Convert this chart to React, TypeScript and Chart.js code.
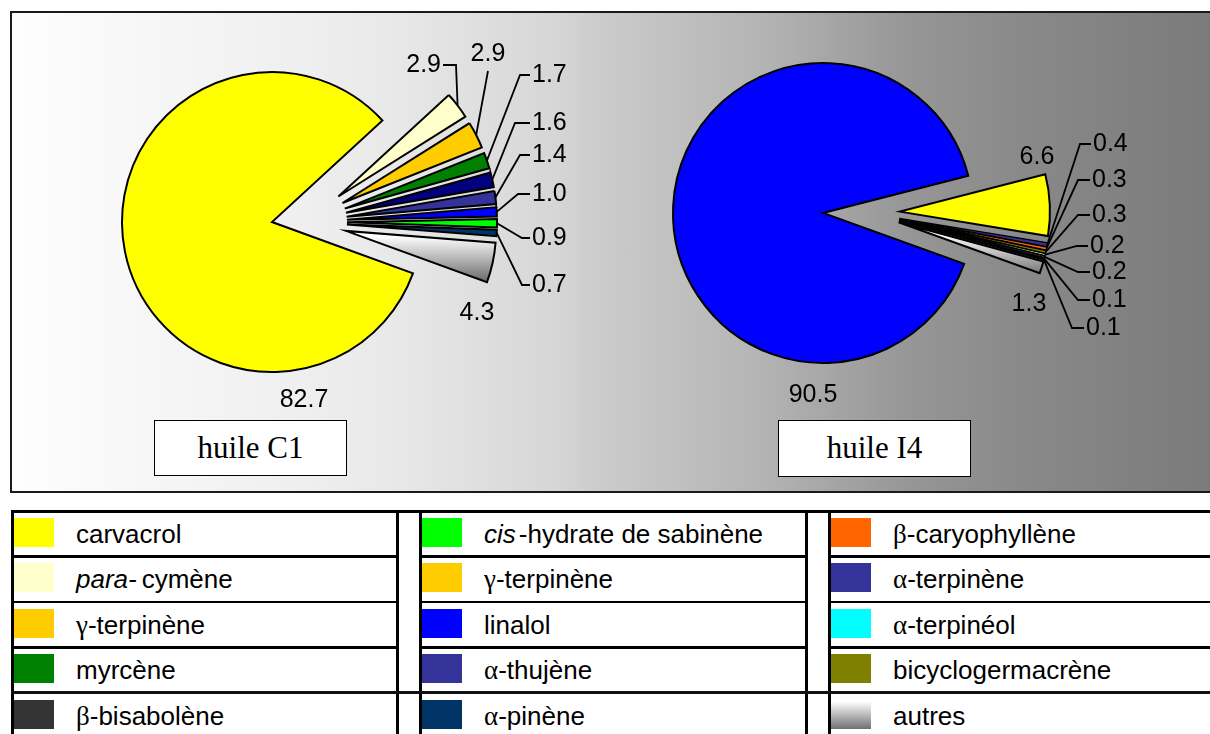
import React, { useEffect, useRef } from 'react';
import { Chart, registerables } from 'chart.js';

Chart.register(...registerables);

// ================= DATA =================
const chartTitles = ['huile C1', 'huile I4'];

const c1Labels = ['carvacrol', 'para-cymène', 'γ-terpinène', 'myrcène', 'α-terpinène', 'α-thujène', 'linalol', 'cis-hydrate de sabinène', 'α-pinène', 'autres'];
const c1Values = [82.7, 2.9, 2.9, 1.7, 1.6, 1.4, 1.0, 0.9, 0.7, 4.3];
const c1Colors = ['#FFFF00', '#FFFFCC', '#FFCC00', '#008000', '#000080', '#333399', '#0000FF', '#00FF00', '#003366', 'autres'];

const i4Labels = ['linalol', 'carvacrol', 'α-terpinène', 'β-caryophyllène', 'bicyclogermacrène', 'para-cymène', 'β-bisabolène', 'α-terpinéol', 'α-pinène', 'autres'];
const i4Values = [90.5, 6.6, 0.4, 0.3, 0.3, 0.2, 0.2, 0.1, 0.1, 1.3];
const i4Colors = ['#0000FF', '#FFFF00', '#333399', '#FF6600', '#808000', '#FFFFCC', '#333333', '#00FFFF', '#003366', 'autres'];

const legendNames = [
  'carvacrol', 'para-cymène', 'γ-terpinène', 'myrcène', 'β-bisabolène',
  'cis-hydrate de sabinène', 'γ-terpinène', 'linalol', 'α-thujène', 'α-pinène',
  'β-caryophyllène', 'α-terpinène', 'α-terpinéol', 'bicyclogermacrène', 'autres',
];
const legendColors = [
  '#FFFF00', '#FFFFCC', '#FFCC00', '#008000', '#333333',
  '#00FF00', '#FFCC00', '#0000FF', '#333399', '#003366',
  '#FF6600', '#333399', '#00FFFF', '#808000', 'autres',
];

// ================= LAYOUT =================
type LabelPos = { x: number; y: number; align: CanvasTextAlign; path?: number[][] };

// label positions relative to the pie centre
const c1LabelPos: LabelPos[] = [
  { x: 32, y: 178, align: 'center' },
  { x: 169, y: -157, align: 'right', path: [[184, -157], [171, -157]] },
  { x: 216, y: -168, align: 'center', path: [[216, -151]] },
  { x: 260, y: -147, align: 'left', path: [[248, -147], [258, -147]] },
  { x: 260, y: -99, align: 'left', path: [[243, -99], [258, -99]] },
  { x: 260, y: -67, align: 'left', path: [[248, -67], [258, -67]] },
  { x: 260, y: -28, align: 'left', path: [[246, -28], [258, -28]] },
  { x: 260, y: 16, align: 'left', path: [[250, 16], [258, 16]] },
  { x: 260, y: 63, align: 'left', path: [[250, 63], [258, 63]] },
  { x: 205, y: 91, align: 'center' },
];

const i4LabelPos: LabelPos[] = [
  { x: -10, y: 182, align: 'center' },
  { x: 214, y: -56, align: 'center' },
  { x: 270, y: -69, align: 'left', path: [[257, -69], [268, -69]] },
  { x: 269, y: -33, align: 'left', path: [[255, -33], [267, -33]] },
  { x: 269, y: 2, align: 'left', path: [[255, 2], [267, 2]] },
  { x: 267, y: 33, align: 'left', path: [[254, 33], [265, 33]] },
  { x: 269, y: 59, align: 'left', path: [[255, 59], [267, 59]] },
  { x: 269, y: 87, align: 'left', path: [[255, 87], [267, 87]] },
  { x: 263, y: 115, align: 'left', path: [[249, 115], [261, 115]] },
  { x: 206, y: 91, align: 'center' },
];

const FONT = '"Liberation Sans", Arial, Helvetica, sans-serif';
const SERIF = '"Liberation Serif", "Times New Roman", serif';

interface PieCfg {
  values: number[];
  labels: string[];
  colors: string[];
  labelPos: LabelPos[];
  rotation: number;
  radius: number;
  explode: { dx: number; o: number };
  grad: [number, number];
  left: number;
  top: number;
  width: number;
  height: number;
  padding: { left: number; right: number; top: number; bottom: number };
}

const pieC1: PieCfg = {
  values: c1Values, labels: c1Labels, colors: c1Colors, labelPos: c1LabelPos,
  rotation: 110, radius: 150, explode: { dx: 33, o: 42 }, grad: [14, 58],
  left: 12, top: 13, width: 598, height: 478,
  padding: { left: 0, right: 78, top: 0, bottom: 60 },
};

const pieI4: PieCfg = {
  values: i4Values, labels: i4Labels, colors: i4Colors, labelPos: i4LabelPos,
  rotation: 109.8, radius: 150, explode: { dx: 46, o: 31 }, grad: [22, 62],
  left: 610, top: 13, width: 598, height: 478,
  padding: { left: 0, right: 172, top: 0, bottom: 78 },
};

function PieChart({ cfg }: { cfg: PieCfg }) {
  const ref = useRef<HTMLCanvasElement>(null);
  useEffect(() => {
    const canvas = ref.current;
    if (!canvas) return;

    const explodePlugin = {
      id: 'explodeSlices',
      afterDatasetsUpdate(chart: any) {
        const meta = chart.getDatasetMeta(0);
        const ca = chart.chartArea;
        const cx = (ca.left + ca.right) / 2;
        const cy = (ca.top + ca.bottom) / 2;
        meta.data.forEach((arc: any, i: number) => {
          if (i === 0) return;
          const mid = (arc.startAngle + arc.endAngle) / 2;
          arc.x = cx + cfg.explode.dx + cfg.explode.o * Math.cos(mid);
          arc.y = cy + cfg.explode.o * Math.sin(mid);
        });
      },
    };

    const labelPlugin = {
      id: 'valueLabels',
      afterDatasetsDraw(chart: any) {
        const ctx = chart.ctx as CanvasRenderingContext2D;
        const meta = chart.getDatasetMeta(0);
        const ca = chart.chartArea;
        const cx = (ca.left + ca.right) / 2;
        const cy = (ca.top + ca.bottom) / 2;
        ctx.save();
        ctx.font = `25px ${FONT}`;
        ctx.fillStyle = '#000';
        ctx.strokeStyle = '#000';
        ctx.lineWidth = 1.8;
        meta.data.forEach((arc: any, i: number) => {
          const p = cfg.labelPos[i];
          if (!p) return;
          const mid = (arc.startAngle + arc.endAngle) / 2;
          if (p.path) {
            ctx.beginPath();
            ctx.moveTo(arc.x + arc.outerRadius * Math.cos(mid), arc.y + arc.outerRadius * Math.sin(mid));
            p.path.forEach(([px, py]) => ctx.lineTo(cx + px, cy + py));
            ctx.stroke();
          }
          ctx.textAlign = p.align;
          ctx.textBaseline = 'middle';
          ctx.fillText(cfg.values[i].toFixed(1), cx + p.x, cy + p.y);
        });
        ctx.restore();
      },
    };

    const chart = new Chart(canvas, {
      type: 'pie',
      data: {
        labels: cfg.labels,
        datasets: [
          {
            data: cfg.values,
            backgroundColor: (c: any) => {
              const col = cfg.colors[c.dataIndex];
              if (col === undefined) return '#000';
              if (col !== 'autres') return col;
              const ca = c.chart.chartArea;
              if (!ca) return '#bbbbbb';
              const cy = (ca.top + ca.bottom) / 2;
              const g = c.chart.ctx.createLinearGradient(0, cy + cfg.grad[0], 0, cy + cfg.grad[1]);
              g.addColorStop(0, '#ffffff');
              g.addColorStop(1, '#707070');
              return g;
            },
            borderColor: '#000',
            borderWidth: (c: any) => {
              const v = cfg.values[c.dataIndex];
              return v !== undefined && v < 0.5 ? 1.2 : 2;
            },
            borderJoinStyle: 'miter',
            hoverOffset: 0,
          } as any,
        ],
      },
      options: {
        responsive: false,
        maintainAspectRatio: false,
        animation: false,
        events: [],
        rotation: cfg.rotation,
        radius: cfg.radius,
        layout: { padding: cfg.padding },
        plugins: {
          legend: { display: false },
          tooltip: { enabled: false },
          title: { display: false },
        },
      } as any,
      plugins: [explodePlugin, labelPlugin],
    });
    return () => chart.destroy();
  }, [cfg]);

  return (
    <canvas
      ref={ref}
      width={cfg.width}
      height={cfg.height}
      style={{ position: 'absolute', left: cfg.left, top: cfg.top, width: cfg.width, height: cfg.height }}
    />
  );
}

function formatName(name: string) {
  const nodes: React.ReactNode[] = [];
  let rest = name;
  const m = rest.match(/^(para-|cis)(.*)$/);
  if (m) {
    nodes.push(
      <i key="it" style={{ marginRight: m[1] === 'cis' ? 3 : 5 }}>
        {m[1]}
      </i>
    );
    rest = m[2];
  }
  const g = rest.match(/^([αβγ])(.*)$/);
  if (g) {
    nodes.push(
      <span key="gr" style={{ fontFamily: SERIF, fontSize: 27 }}>
        {g[1]}
      </span>
    );
    rest = g[2];
  }
  nodes.push(<span key="rest">{rest}</span>);
  return nodes;
}

const colX = [11, 419, 828];
const colR = [395.5, 805.3, 1220];
const ROW_TOP = 511;
const ROW_H = 45.4;

function Legend() {
  const items: React.ReactNode[] = [];
  items.push(<div key="top" style={{ position: 'absolute', left: 11, top: 509.5, width: 1210, height: 3, background: '#000' }} />);
  colX.forEach((x, c) => {
    items.push(<div key={`l${c}`} style={{ position: 'absolute', left: x, top: 509.5, width: 3, height: 230, background: '#000' }} />);
    items.push(<div key={`r${c}`} style={{ position: 'absolute', left: colR[c], top: 509.5, width: 3, height: 230, background: '#000' }} />);
    for (let k = 1; k <= 3; k++) {
      items.push(
        <div
          key={`s${c}-${k}`}
          style={{ position: 'absolute', left: x, top: ROW_TOP + k * ROW_H - 1.2, width: colR[c] - x + 3, height: 2.6, background: '#000' }}
        />
      );
    }
  });
  items.push(
    <div key="s4" style={{ position: 'absolute', left: 11, top: ROW_TOP + 4 * ROW_H - 1.2, width: 1210, height: 2.6, background: '#111' }} />
  );
  legendNames.forEach((name, i) => {
    const c = Math.floor(i / 5);
    const r = i % 5;
    const top = ROW_TOP + r * ROW_H;
    const col = legendColors[i];
    items.push(
      <div
        key={`sw${i}`}
        style={{
          position: 'absolute',
          left: colX[c] + 2.5,
          top: top + 7,
          width: 40,
          height: 29,
          background: col === 'autres' ? 'linear-gradient(to bottom, #ffffff 5%, #707070 100%)' : col,
        }}
      />
    );
    items.push(
      <div
        key={`tx${i}`}
        style={{
          position: 'absolute',
          left: colX[c] + 65,
          top: top + 1,
          height: ROW_H,
          lineHeight: `${ROW_H}px`,
          fontFamily: FONT,
          fontSize: 26,
          color: '#000',
          whiteSpace: 'nowrap',
        }}
      >
        {formatName(name)}
      </div>
    );
  });
  return <>{items}</>;
}

const titleBoxes = [
  { left: 154, top: 420, width: 193, height: 56 },
  { left: 778, top: 420, width: 193, height: 57 },
];

export default function App() {
  return (
    <div style={{ position: 'absolute', left: 0, top: 0, width: 1210, height: 734, overflow: 'hidden', background: '#fff' }}>
      <div
        style={{
          position: 'absolute',
          left: 10,
          top: 11,
          width: 1210,
          height: 482,
          boxSizing: 'border-box',
          border: '2px solid #1a1a1a',
          background:
            'linear-gradient(to right, #fefefe 0%, #f6f6f6 12%, #efefef 24%, #e8e8e8 32%, #d6d6d6 45%, #cbcbcb 49%, #b4b4b4 62%, #979797 74%, #8a8a8a 83%, #7a7a7a 100%)',
        }}
      />
      <PieChart cfg={pieC1} />
      <PieChart cfg={pieI4} />
      {titleBoxes.map((b, i) => (
        <div
          key={i}
          style={{
            position: 'absolute',
            left: b.left,
            top: b.top,
            width: b.width,
            height: b.height,
            boxSizing: 'border-box',
            border: '1.5px solid #000',
            background: '#fff',
            fontFamily: SERIF,
            fontSize: 31,
            lineHeight: `${b.height - 3}px`,
            textAlign: 'center',
            color: '#000',
          }}
        >
          {chartTitles[i]}
        </div>
      ))}
      <Legend />
    </div>
  );
}
